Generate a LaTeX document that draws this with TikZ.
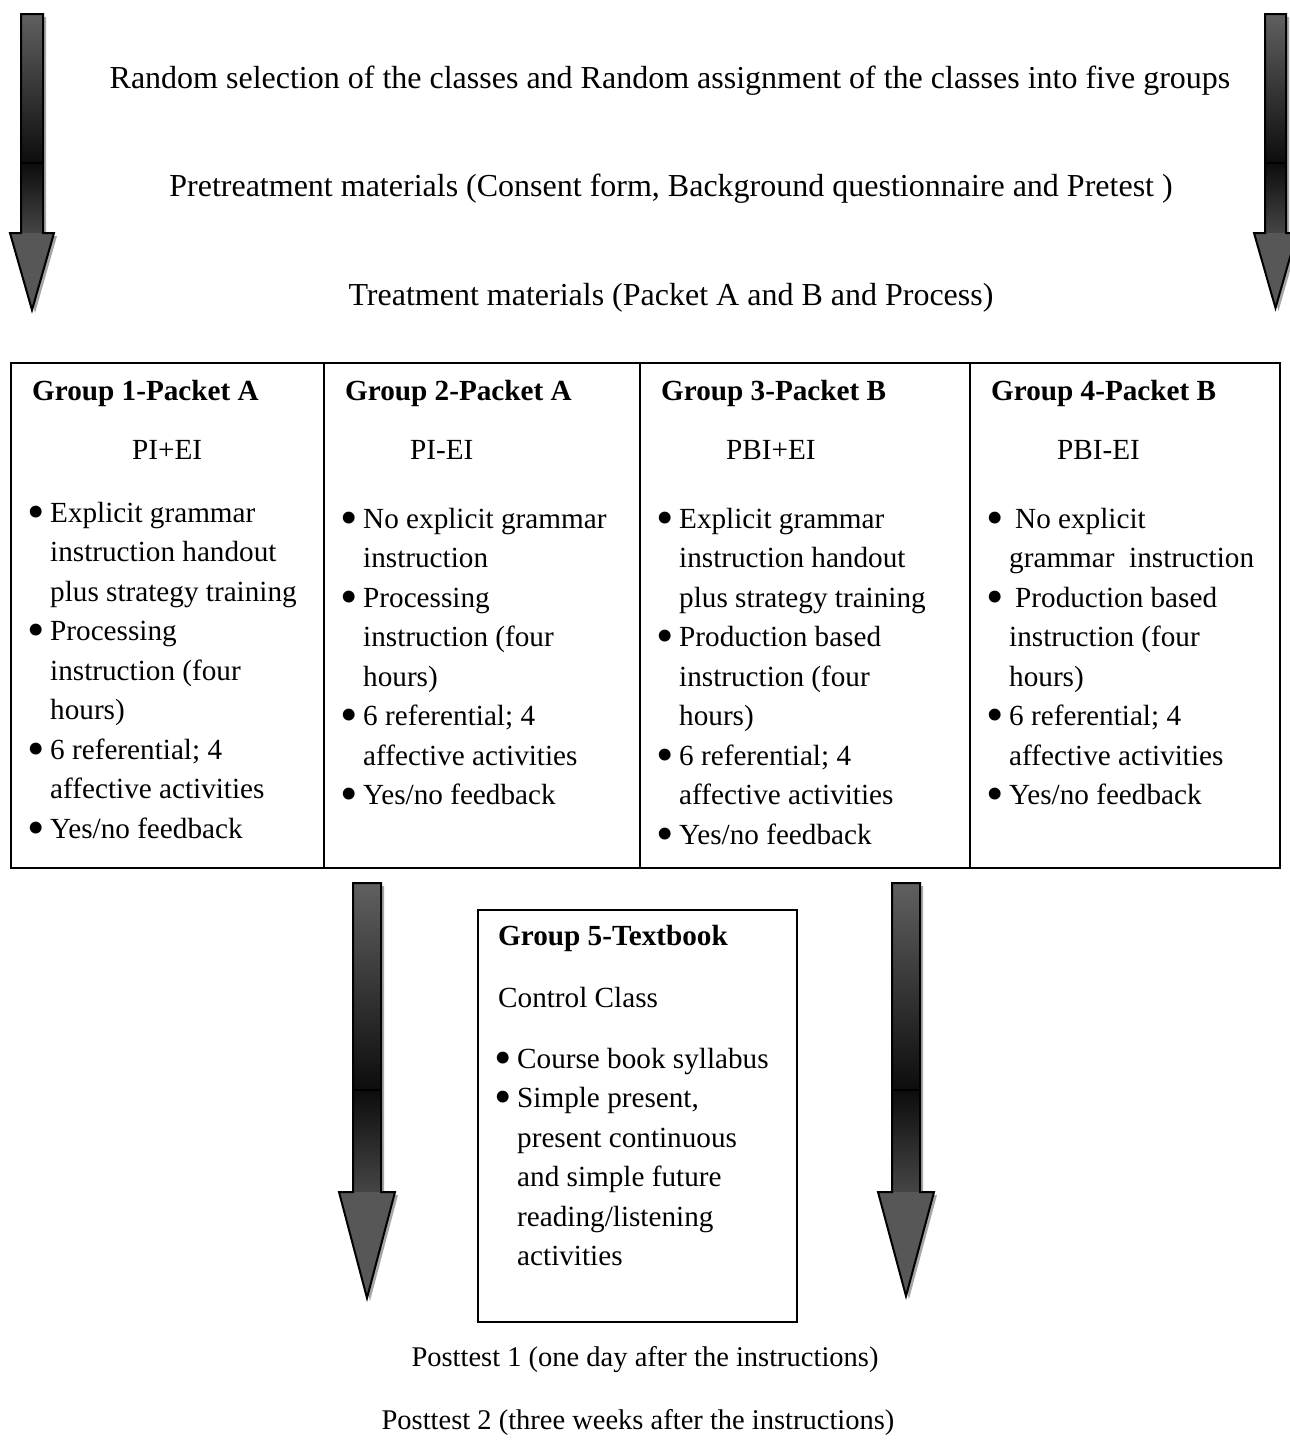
\documentclass[tikz,border=0pt]{standalone}
\usepackage{fontspec}
\setmainfont{Liberation Serif}
\definecolor{arrowtop}{HTML}{606060}
\definecolor{arrowlow}{HTML}{454545}
\definecolor{arrowhead}{HTML}{575757}
\newcommand\shadedarrow[9]{%
  \fill[black!35, shift={(3,3)}] (#1,#3) -- (#2,#3) -- (#2,#5) -- (#7,#5) -- (#8,#9) -- (#6,#5) -- (#1,#5) -- cycle;
  \shade[top color=arrowtop, bottom color=black!95] (#1,#3) rectangle (#2,#4);
  \shade[top color=black!95, bottom color=arrowlow] (#1,#4) rectangle (#2,#5);
  \fill[arrowhead] (#6,#5) -- (#7,#5) -- (#8,#9) -- cycle;
  \draw[line width=2pt] (#1,#4) -- (#2,#4);
  \draw[line width=2pt, line join=miter] (#1,#3) -- (#2,#3) -- (#2,#5) -- (#7,#5) -- (#8,#9) -- (#6,#5) -- (#1,#5) -- cycle;
}
\tikzset{
  txt/.style={inner sep=0pt, font=\fontsize{29.2}{39.5}\selectfont},
  toptxt/.style={inner sep=0pt, anchor=base, font=\fontsize{32}{39.5}\selectfont},
  posttxt/.style={inner sep=0pt, anchor=base, font=\fontsize{28.5}{39.5}\selectfont},
  hdr/.style={txt, anchor=base west, font=\fontsize{29.2}{39.5}\selectfont\bfseries},
  cellbox/.style={draw, line width=1.5pt, anchor=north west, inner sep=0pt},
}
\newcommand\bul{\leavevmode\llap{\raisebox{-6pt}{\scalebox{1.7}{\textbullet}}\hspace{5pt}}}
\begin{document}
\begin{tikzpicture}[x=1pt,y=-1pt]
\useasboundingbox (0,0) rectangle (1290,1443);
\fill[white] (0,0) rectangle (1290,1443);

% top arrows
\shadedarrow{21}{43}{14}{163}{233}{10}{54}{32}{310}
\shadedarrow{1265}{1286}{14}{163}{233}{1254}{1297}{1275.5}{308}

% top texts
\node[toptxt] (sel) at (670,88) {Random selection of the classes and Random assignment of the classes into five groups};
\node[toptxt] (pre) at (671,196) {Pretreatment materials (Consent form, Background questionnaire and Pretest )};
\node[toptxt] (trt) at (671,305) {Treatment materials (Packet A and B and Process)};

% table
\node[cellbox, minimum width=313, minimum height=505] (c1) at (10,362) {};
\node[cellbox, minimum width=316, minimum height=505] (c2) at (323,362) {};
\node[cellbox, minimum width=330, minimum height=505] (c3) at (639,362) {};
\node[cellbox, minimum width=310, minimum height=505] (c4) at (969,362) {};

\node[hdr] (h1) at (32,400) {Group 1-Packet A};
\node[hdr] (h2) at (345,400) {Group 2-Packet A};
\node[hdr] (h3) at (661,400) {Group 3-Packet B};
\node[hdr] (h4) at (991,400) {Group 4-Packet B};

\node[txt, anchor=base west] (s1) at (132,459) {PI+EI};
\node[txt, anchor=base west] (s2) at (410,459) {PI-EI};
\node[txt, anchor=base west] (s3) at (726,459) {PBI+EI};
\node[txt, anchor=base west] (s4) at (1057,459) {PBI-EI};

\node[txt, anchor=base west] (l1) at (50,522) {\parbox[t]{270pt}{\bul Explicit grammar\\ instruction handout\\ plus strategy training\\ \bul Processing\\ instruction (four\\ hours)\\ \bul 6 referential; 4\\ affective activities\\ \bul Yes/no feedback}};
\node[txt, anchor=base west] (l2) at (363,528) {\parbox[t]{270pt}{\bul No explicit grammar\\ instruction\\ \bul Processing\\ instruction (four\\ hours)\\ \bul 6 referential; 4\\ affective activities\\ \bul Yes/no feedback}};
\node[txt, anchor=base west] (l3) at (679,528) {\parbox[t]{280pt}{\bul Explicit grammar\\ instruction handout\\ plus strategy training\\ \bul Production based\\ instruction (four\\ hours)\\ \bul 6 referential; 4\\ affective activities\\ \bul Yes/no feedback}};
\node[txt, anchor=base west] (l4) at (1009,528) {\parbox[t]{265pt}{\bul\hspace*{6pt}No explicit\\ grammar\ \ instruction\\ \bul\hspace*{6pt}Production based\\ instruction (four\\ hours)\\ \bul 6 referential; 4\\ affective activities\\ \bul Yes/no feedback}};

% middle arrows
\shadedarrow{353}{381}{883}{1090}{1192}{339}{395}{367}{1298}
\shadedarrow{892}{920}{883}{1090}{1192}{878}{934}{906}{1296}

% group 5
\node[cellbox, minimum width=319, minimum height=412] (g5) at (477,909) {};
\node[hdr] (h5) at (498,945) {Group 5-Textbook};
\node[txt, anchor=base west] (s5) at (498,1007) {Control Class};
\node[txt, anchor=base west] (l5) at (517,1068) {\parbox[t]{270pt}{\bul Course book syllabus\\ \bul Simple present,\\ present continuous\\ and simple future\\ reading/listening\\ activities}};

% posttests
\node[posttxt] (p1) at (645,1366) {Posttest 1 (one day after the instructions)};
\node[posttxt] (p2) at (638,1429) {Posttest 2 (three weeks after the instructions)};
\end{tikzpicture}
\end{document}
